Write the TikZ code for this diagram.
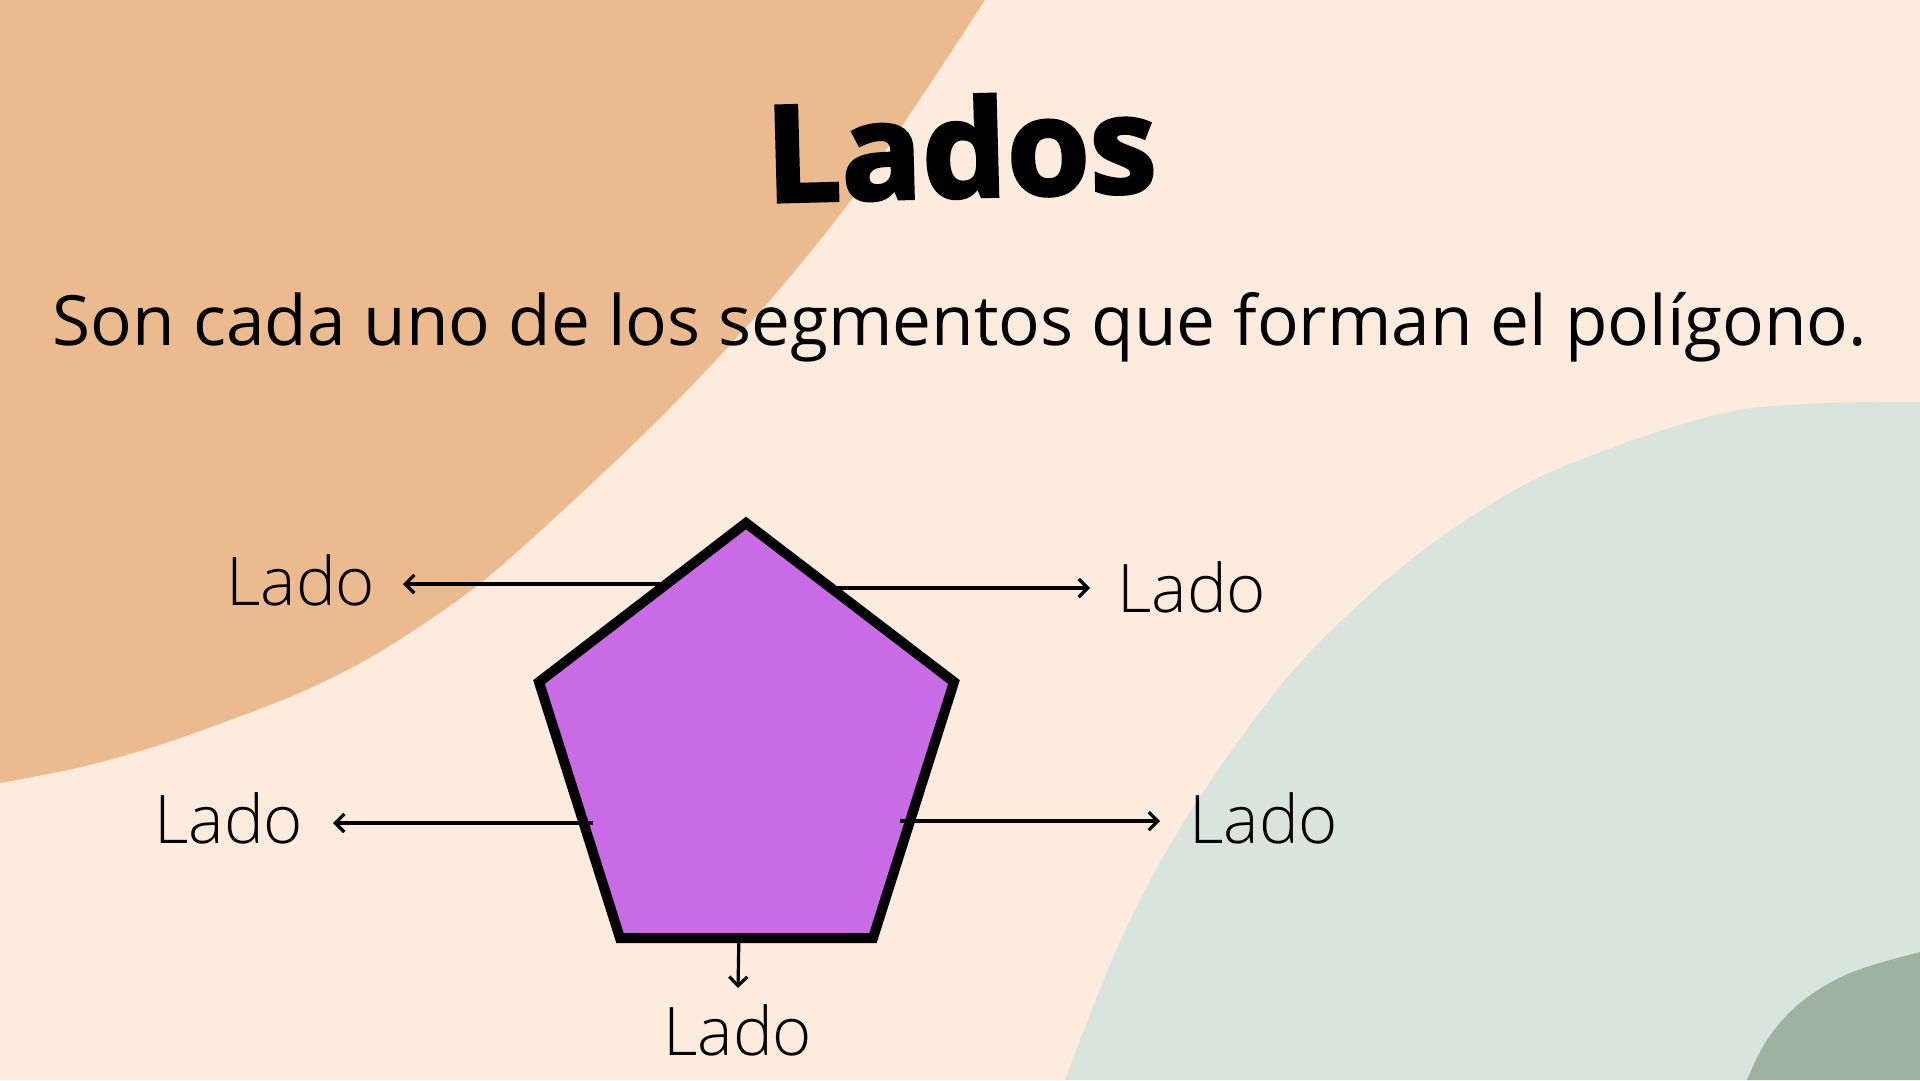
\documentclass[tikz,border=0pt]{standalone}
\usepackage{fontspec}
\setmainfont{Open Sans}
\newfontfamily\oslight{Open Sans Light}
\newfontfamily\osxbold{Open Sans}[FakeBold=2.6]
\usetikzlibrary{arrows.meta}
\definecolor{bgpeach}{HTML}{FDEBDE}
\definecolor{blobor}{HTML}{EBBB8F}
\definecolor{blobgr}{HTML}{DAE4DE}
\definecolor{blobdg}{HTML}{9FB29F}
\definecolor{pentfill}{HTML}{C96BE5}
\tikzset{
  ladolabel/.style={anchor=base west, inner sep=0pt, font=\oslight\fontsize{67}{80}\selectfont},
  ladoarrow/.style={line width=3.2pt, -{Straight Barb[length=9pt,width=18pt]}},
}
\begin{document}
\begin{tikzpicture}[x=1pt,y=-1pt]
\useasboundingbox (0,0) rectangle (1920,1080);
\fill[bgpeach] (0,0) rectangle (1920,1080);
% orange blob
\fill[blobor] (0,0) -- plot[smooth, tension=0.55] coordinates {(985,0) (918,102) (848,204) (765,306) (670,408) (574,500) (478,585) (383,650) (306,690) (230,720) (153,747) (77,768) (0,783)} -- cycle;
% light green blob
\fill[blobgr] (1920,1080) -- plot[smooth, tension=0.55] coordinates {(1920,402) (1739,410) (1567,465) (1469,518) (1384,582) (1298,665) (1225,760) (1163,857) (1114,955) (1065,1080)} -- cycle;
% dark green blob
\fill[blobdg] (1920,1080) -- plot[smooth, tension=0.6] coordinates {(1920,952) (1850,973) (1800,1003) (1767,1040) (1747,1080)} -- cycle;

% title and subtitle
\node[anchor=base, inner sep=0pt, rotate=1.5, font=\osxbold\bfseries\fontsize{134}{150}\selectfont] (title) at (962,197) {Lados};
\node[anchor=base, inner sep=0pt, font=\fontsize{69.3}{84}\selectfont] (subtitle) at (960,345) {Son cada uno de los segmentos que forman el polígono.};

% pentagon
\coordinate (pT) at (746,523);
\coordinate (pR) at (954,682);
\coordinate (pBR) at (873,938);
\coordinate (pBL) at (620,938);
\coordinate (pL) at (539,682);
\draw[line width=10pt, fill=pentfill] (pT) -- (pR) -- (pBR) -- (pBL) -- (pL) -- cycle;

% labels
\node[ladolabel] (l1) at (226,605) {Lado};
\node[ladolabel] (l2) at (1117,612) {Lado};
\node[ladolabel] (l3) at (154,843) {Lado};
\node[ladolabel] (l4) at (1189,843) {Lado};
\node[ladolabel] (l5) at (663,1055) {Lado};

% arrows
\coordinate (s1) at (662,584); \coordinate (e1) at (403,584);
\coordinate (s2) at (836,588); \coordinate (e2) at (1090,588);
\coordinate (s3) at (593,823); \coordinate (e3) at (333,823);
\coordinate (s4) at (900,821); \coordinate (e4) at (1160,821);
\coordinate (s5) at (739,933); \coordinate (e5) at (738,988);
\draw[ladoarrow] (s1) -- (e1);
\draw[ladoarrow] (s2) -- (e2);
\draw[ladoarrow] (s3) -- (e3);
\draw[ladoarrow] (s4) -- (e4);
\draw[ladoarrow] (s5) -- (e5);
\end{tikzpicture}
\end{document}
